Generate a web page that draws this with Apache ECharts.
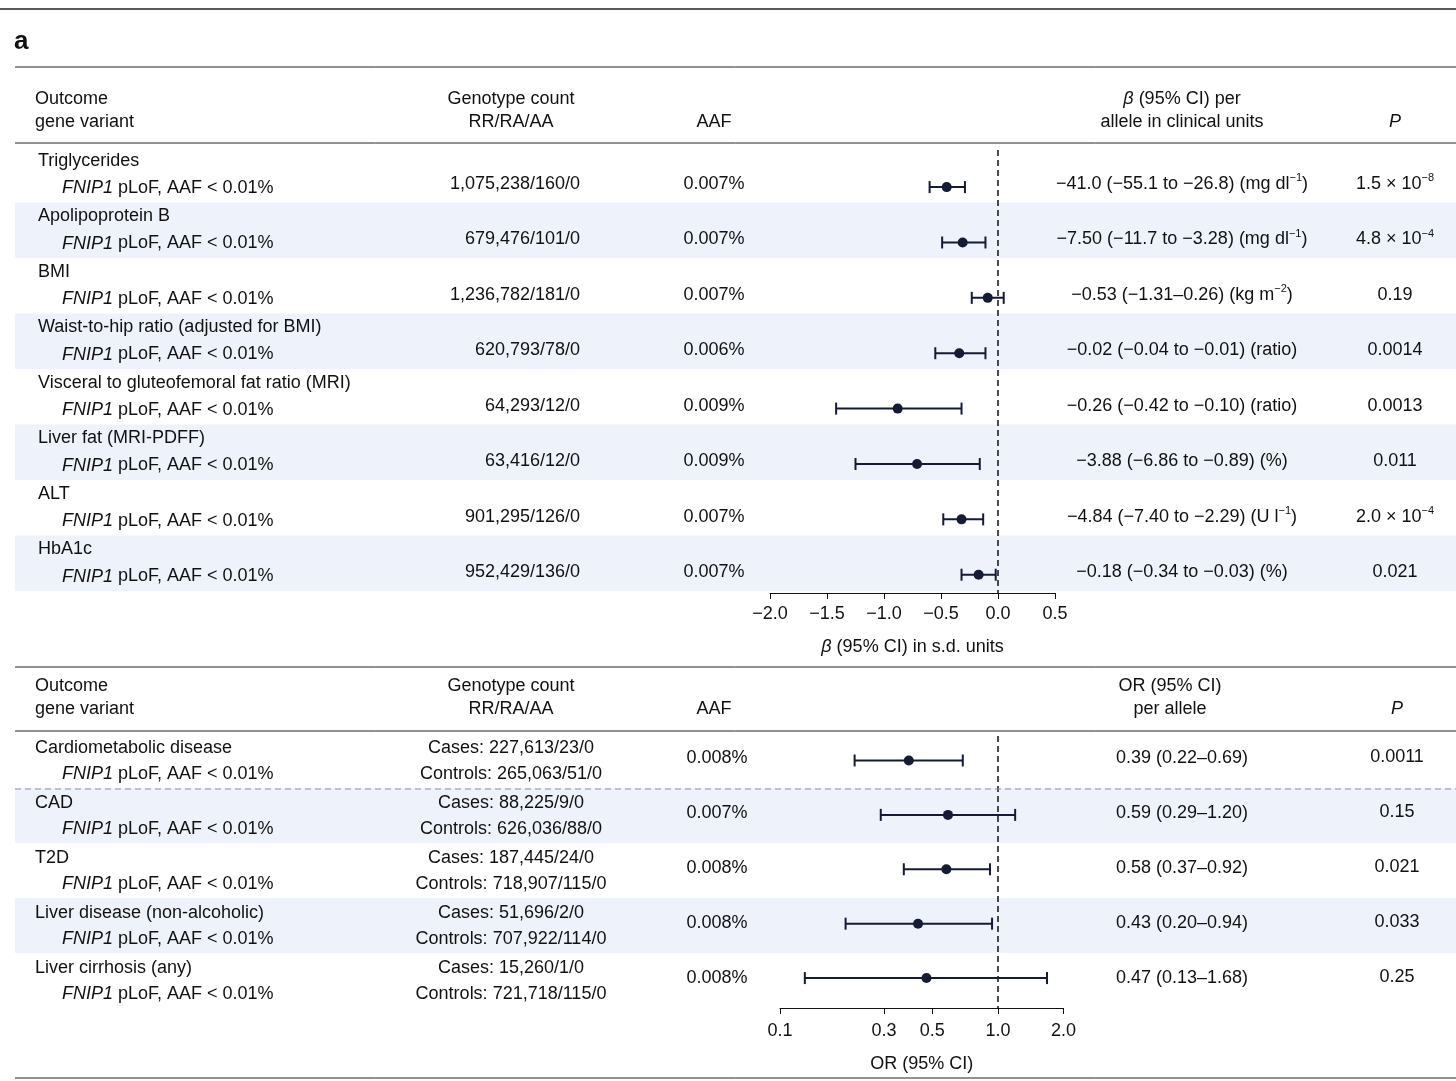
<!DOCTYPE html>
<html>
<head>
<meta charset="utf-8">
<script src="https://cdn.jsdelivr.net/npm/echarts@6/dist/echarts.min.js"></script>
<style>
	html, body { margin: 0; padding: 0; background: #fff; }
	#chart { width: 1456px; height: 1081px; }
</style>
</head>
<body>
<div id="chart"></div>
<script>
// ---- top panel (quantitative traits) ----
let outcomes = [
	"Triglycerides",
	"Apolipoprotein B",
	"BMI",
	"Waist-to-hip ratio (adjusted for BMI)",
	"Visceral to gluteofemoral fat ratio (MRI)",
	"Liver fat (MRI-PDFF)",
	"ALT",
	"HbA1c",
];
let genoCounts = [
	"1,075,238/160/0",
	"679,476/101/0",
	"1,236,782/181/0",
	"620,793/78/0",
	"64,293/12/0",
	"63,416/12/0",
	"901,295/126/0",
	"952,429/136/0",
];
let aafTop = ["0.007%", "0.007%", "0.007%", "0.006%", "0.009%", "0.009%", "0.007%", "0.007%"];
let betaText = [
	"−41.0 (−55.1 to −26.8) (mg dl{s|−1})",
	"−7.50 (−11.7 to −3.28) (mg dl{s|−1})",
	"−0.53 (−1.31–0.26) (kg m{s|−2})",
	"−0.02 (−0.04 to −0.01) (ratio)",
	"−0.26 (−0.42 to −0.10) (ratio)",
	"−3.88 (−6.86 to −0.89) (%)",
	"−4.84 (−7.40 to −2.29) (U l{s|−1})",
	"−0.18 (−0.34 to −0.03) (%)",
];
let pTop = ["1.5 × 10{s|−8}", "4.8 × 10{s|−4}", "0.19", "0.0014", "0.0013", "0.011", "2.0 × 10{s|−4}", "0.021"];
let betaEst = [-0.45, -0.31, -0.09, -0.34, -0.88, -0.71, -0.32, -0.17];
let betaLo = [-0.6, -0.49, -0.23, -0.55, -1.42, -1.25, -0.48, -0.32];
let betaHi = [-0.29, -0.11, 0.05, -0.11, -0.32, -0.16, -0.13, -0.02];

// ---- bottom panel (disease outcomes) ----
let diseases = [
	"Cardiometabolic disease",
	"CAD",
	"T2D",
	"Liver disease (non-alcoholic)",
	"Liver cirrhosis (any)",
];
let casesCounts = ["227,613/23/0", "88,225/9/0", "187,445/24/0", "51,696/2/0", "15,260/1/0"];
let controlCounts = ["265,063/51/0", "626,036/88/0", "718,907/115/0", "707,922/114/0", "721,718/115/0"];
let aafBot = ["0.008%", "0.007%", "0.008%", "0.008%", "0.008%"];
let orEst = [0.39, 0.59, 0.58, 0.43, 0.47];
let orLo = [0.22, 0.29, 0.37, 0.2, 0.13];
let orHi = [0.69, 1.2, 0.92, 0.94, 1.68];
let pBot = ["0.0011", "0.15", "0.021", "0.033", "0.25"];
let orTicks = [0.1, 0.3, 0.5, 1.0, 2.0];

let FONT = "Liberation Sans, Arial, sans-serif";
let INK = "#111";
let DOT = "#151a35";
let BAND = "#eef2fa";

let topY0 = 147, topRow = 55.5;
let botY0 = 733, botRow = 55;

let txt = function (text, x, y, align, extra) {
	return {
		type: "text",
		z: 10,
		style: Object.assign({
			text: text,
			x: x,
			y: y,
			textAlign: align || "left",
			textVerticalAlign: "middle",
			fontSize: 18,
			fontFamily: FONT,
			fill: INK,
			rich: {
				s: { fontSize: 11, fontFamily: FONT, fill: INK, padding: [0, 0, 12, 0] },
				i: { fontSize: 18, fontFamily: FONT, fill: INK, fontStyle: "italic" },
			},
		}, extra || {}),
	};
};
let hline = function (y, x1, extra) {
	return {
		type: "line",
		z: 10,
		shape: { x1: x1, y1: y, x2: 1456, y2: y },
		style: Object.assign({ stroke: "#222", lineWidth: 1 }, extra || {}),
	};
};
let sub = "{i|FNIP1} pLoF, AAF < 0.01%";

let graphics = [];
// shaded bands
outcomes.forEach((d, i) => {
	if (i % 2 === 1) {
		graphics.push({ type: "rect", z: 0, shape: { x: 15, y: topY0 + topRow * i, width: 1441, height: topRow }, style: { fill: BAND } });
	}
});
diseases.forEach((d, i) => {
	if (i % 2 === 1) {
		graphics.push({ type: "rect", z: 0, shape: { x: 15, y: botY0 + botRow * i, width: 1441, height: botRow }, style: { fill: BAND } });
	}
});

graphics.push(hline(9, 0, { lineWidth: 1.5 }));
graphics.push(txt("a", 14, 42, "left", { fontSize: 26, fontWeight: "bold" }));
graphics.push(hline(67, 15));
graphics.push(hline(143, 15));
graphics.push(hline(667, 15));
graphics.push(hline(731, 15));
graphics.push(hline(789, 15, { stroke: "#8a8f9c", lineDash: [6, 4] }));
graphics.push(hline(1078, 15));

// top header
graphics.push(txt("Outcome", 35, 99));
graphics.push(txt("gene variant", 35, 122));
graphics.push(txt("Genotype count", 511, 99, "center"));
graphics.push(txt("RR/RA/AA", 511, 122, "center"));
graphics.push(txt("AAF", 714, 122, "center"));
graphics.push(txt("{b|β} (95% CI) per", 1182, 99, "center", { rich: { b: { fontSize: 18, fontFamily: FONT, fill: INK, fontStyle: "italic" } } }));
graphics.push(txt("allele in clinical units", 1182, 122, "center"));
graphics.push(txt("P", 1395, 122, "center", { fontStyle: "italic" }));

outcomes.forEach((d, i) => {
	let top = topY0 + topRow * i;
	graphics.push(txt(d, 38, top + 14));
	graphics.push(txt(sub, 62, top + 41));
	graphics.push(txt(genoCounts[i], 580, top + 37, "right"));
	graphics.push(txt(aafTop[i], 714, top + 37, "center"));
	graphics.push(txt(betaText[i], 1182, top + 37, "center"));
	graphics.push(txt(pTop[i], 1395, top + 37, "center"));
});

// bottom header
graphics.push(txt("Outcome", 35, 686));
graphics.push(txt("gene variant", 35, 709));
graphics.push(txt("Genotype count", 511, 686, "center"));
graphics.push(txt("RR/RA/AA", 511, 709, "center"));
graphics.push(txt("AAF", 714, 709, "center"));
graphics.push(txt("OR (95% CI)", 1170, 686, "center"));
graphics.push(txt("per allele", 1170, 709, "center"));
graphics.push(txt("P", 1397, 709, "center", { fontStyle: "italic" }));

diseases.forEach((d, i) => {
	let top = botY0 + botRow * i;
	graphics.push(txt(d, 35, top + 15));
	graphics.push(txt(sub, 62, top + 41));
	graphics.push(txt("Cases: " + casesCounts[i], 511, top + 15, "center"));
	graphics.push(txt("Controls: " + controlCounts[i], 511, top + 41, "center"));
	graphics.push(txt(aafBot[i], 717, top + 25, "center"));
	let t = orEst[i].toFixed(2) + " (" + orLo[i].toFixed(2) + "–" + orHi[i].toFixed(2) + ")";
	graphics.push(txt(t, 1182, top + 25, "center"));
	graphics.push(txt(pBot[i], 1397, top + 24, "center"));
});

let renderErr = function (params, api) {
	let y = api.value(3);
	let p = api.coord([api.value(0), y]);
	let lo = api.coord([api.value(1), y]);
	let hi = api.coord([api.value(2), y]);
	let st = { stroke: DOT, lineWidth: 2 };
	return {
		type: "group",
		children: [
			{ type: "line", shape: { x1: lo[0], y1: p[1], x2: hi[0], y2: p[1] }, style: st },
			{ type: "line", shape: { x1: lo[0], y1: p[1] - 6, x2: lo[0], y2: p[1] + 6 }, style: st },
			{ type: "line", shape: { x1: hi[0], y1: p[1] - 6, x2: hi[0], y2: p[1] + 6 }, style: st },
			{ type: "circle", shape: { cx: p[0], cy: p[1], r: 5 }, style: { fill: DOT } },
		],
	};
};

let topData = betaEst.map((d, i) => [d, betaLo[i], betaHi[i], i + 0.67]);
let botData = orEst.map((d, i) => [Math.log10(d), Math.log10(orLo[i]), Math.log10(orHi[i]), i + 0.45]);

let axisCommon = {
	position: "bottom",
	axisLine: { onZero: false, lineStyle: { color: "#111", width: 1 } },
	axisTick: { length: 6, lineStyle: { color: "#111" } },
	splitLine: { show: false },
	nameLocation: "middle",
	nameTextStyle: { fontSize: 18, fontFamily: FONT, color: INK },
};

let dashLine = {
	silent: true,
	symbol: "none",
	label: { show: false },
	lineStyle: { color: "#111", type: [6, 4], width: 1.5 },
	data: [{ xAxis: 0 }],
};

let option = {
	animation: false,
	backgroundColor: "#fff",
	graphic: graphics,
	grid: [
		{ left: 770, width: 285, top: 150, height: 443 },
		{ left: 780, width: 283.5, top: 736, height: 272 },
	],
	xAxis: [
		Object.assign({}, axisCommon, {
			type: "value",
			gridIndex: 0,
			min: -2,
			max: 0.5,
			interval: 0.5,
			name: "{b|β} (95% CI) in s.d. units",
			nameGap: 45,
			nameTextStyle: {
				fontSize: 18, fontFamily: FONT, color: INK,
				rich: { b: { fontSize: 18, fontFamily: FONT, color: INK, fontStyle: "italic" } },
			},
			axisLabel: {
				fontSize: 18, fontFamily: FONT, color: INK, margin: 12,
				formatter: (v) => (v < 0 ? "−" : "") + Math.abs(v).toFixed(1),
			},
		}),
		Object.assign({}, axisCommon, {
			type: "value",
			gridIndex: 1,
			min: Math.log10(0.1),
			max: Math.log10(2),
			name: "OR (95% CI)",
			nameGap: 47,
			axisTick: { length: 6, lineStyle: { color: "#111" }, customValues: orTicks.map((t) => Math.log10(t)) },
			axisLabel: {
				fontSize: 18, fontFamily: FONT, color: INK, margin: 14,
				customValues: orTicks.map((t) => Math.log10(t)),
				formatter: (v) => {
					let r = Math.pow(10, v);
					return r < 0.95 ? String(Math.round(r * 10) / 10) : r.toFixed(1);
				},
			},
		}),
	],
	yAxis: [
		{ type: "value", gridIndex: 0, min: 0, max: 8, inverse: true, show: false },
		{ type: "value", gridIndex: 1, min: 0, max: 5, inverse: true, show: false },
	],
	series: [
		{
			type: "custom",
			xAxisIndex: 0,
			yAxisIndex: 0,
			renderItem: renderErr,
			data: topData,
			markLine: dashLine,
			z: 5,
		},
		{
			type: "custom",
			xAxisIndex: 1,
			yAxisIndex: 1,
			renderItem: renderErr,
			data: botData,
			markLine: dashLine,
			z: 5,
		},
	],
};

let myChart = echarts.init(document.getElementById("chart"));
myChart.setOption(option);
</script>
</body>
</html>
